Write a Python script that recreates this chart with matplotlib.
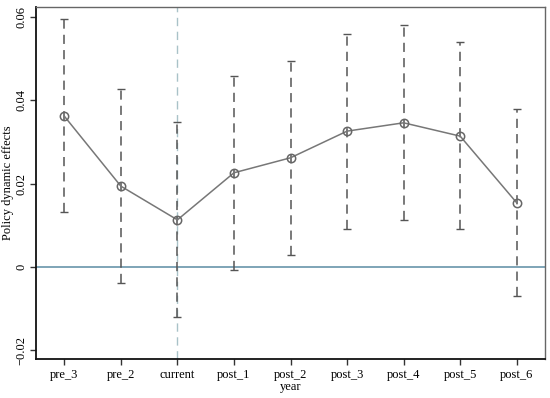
import matplotlib.pyplot as plt
import numpy as np

plt.rcParams['font.family'] = ['Liberation Serif', 'DejaVu Serif']

periods = ['pre_3', 'pre_2', 'current', 'post_1', 'post_2', 'post_3', 'post_4', 'post_5', 'post_6']
coef = [0.0362, 0.0194, 0.0113, 0.0226, 0.0262, 0.0326, 0.0346, 0.0314, 0.0154]
ci_upper = [0.0595, 0.0427, 0.0348, 0.0458, 0.0494, 0.0559, 0.0581, 0.0540, 0.0379]
ci_lower = [0.0132, -0.0038, -0.0120, -0.0007, 0.0029, 0.0091, 0.0113, 0.0091, -0.0070]

x = np.arange(1, len(periods) + 1)
coef = np.array(coef)
yerr = [coef - np.array(ci_lower), np.array(ci_upper) - coef]

fig = plt.figure(figsize=(5.5, 3.98), dpi=100)
ax = fig.add_axes([36/550, 39/398, 509/550, 352/398])

# reference lines
ax.axhline(0, color='#5b8ca3', lw=1.1, zorder=1)
ax.axvline(3, color='#a9c2c8', lw=1.0, ls=(0, (6, 4)), zorder=1)

# confidence intervals
eb = ax.errorbar(x, coef, yerr=yerr, fmt='none', ecolor='#555555', elinewidth=1.1,
                 capsize=3, capthick=1.0, zorder=2)
eb[2][0].set_linestyle((0, (6, 4)))

# point estimates
ax.plot(x, coef, color='#777777', lw=1.1, marker='o', markersize=6,
        markerfacecolor='none', markeredgecolor='#666666', markeredgewidth=1.1, zorder=3)

ax.set_xlim(0.5, 9.5)
ax.set_ylim(-0.0221, 0.0624)
ax.set_xticks(x)
ax.set_xticklabels(periods, fontsize=9)
ax.set_yticks([-0.02, 0, 0.02, 0.04, 0.06])
ax.set_yticklabels(['\u22120.02', '0', '0.02', '0.04', '0.06'], fontsize=9, rotation=90, va='center')
ax.tick_params(direction='out', length=4, width=1, color='#333333')
ax.tick_params(axis='y', pad=2)

for s in ['left', 'bottom']:
    ax.spines[s].set_linewidth(1.3)
    ax.spines[s].set_color('#111111')
for s in ['top', 'right']:
    ax.spines[s].set_linewidth(1.0)
    ax.spines[s].set_color('#666666')

ax.set_xlabel('year', fontsize=9, labelpad=0)
ax.set_ylabel('Policy dynamic effects', fontsize=9, labelpad=1)

plt.savefig('out.png', dpi=100)
